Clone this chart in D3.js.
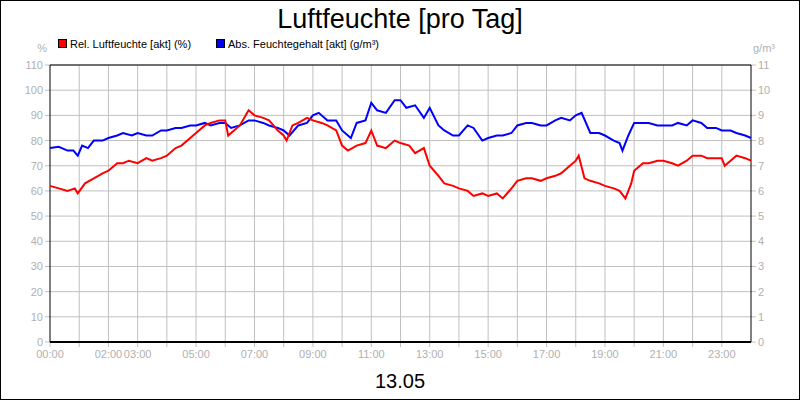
<!DOCTYPE html><html><head><meta charset="utf-8">
<script src="https://cdn.jsdelivr.net/npm/d3@7"></script>
<style>body{margin:0;background:#fff}text{font-family:"Liberation Sans",Arial,sans-serif}</style></head><body>
<svg id="c" width="800" height="400"></svg>
<script>
const relTimes=[0,0.3,0.6,0.85,0.95,1.2,1.5,1.8,2,2.3,2.5,2.7,3,3.3,3.5,3.8,4,4.3,4.5,4.8,5,5.3,5.5,5.8,6,6.1,6.3,6.5,6.8,7,7.3,7.5,7.8,8,8.1,8.3,8.5,8.8,9,9.3,9.5,9.8,10,10.2,10.5,10.8,11,11.2,11.5,11.8,12,12.3,12.5,12.8,13,13.3,13.5,13.8,14,14.3,14.5,14.8,15,15.3,15.5,15.8,16,16.3,16.5,16.8,17,17.3,17.5,17.8,18,18.1,18.3,18.5,18.8,19,19.3,19.5,19.7,19.9,20,20.3,20.5,20.8,21,21.3,21.5,21.8,22,22.3,22.5,22.8,23,23.1,23.3,23.5,23.8,24];
const relVals=[62,61,60,61,59,63,65,67,68,71,71,72,71,73,72,73,74,77,78,81,83,86,87,88,88,82,84,86,92,90,89,88,84,82,80,86,87,89,88,87,86,84,78,76,78,79,84,78,77,80,79,78,75,77,70,66,63,62,61,60,58,59,58,59,57,61,64,65,65,64,65,66,67,70,72,74,65,64,63,62,61,60,57,63,68,71,71,72,72,71,70,72,74,74,73,73,73,70,72,74,73,72];
const absTimes=[0,0.3,0.6,0.8,0.95,1.1,1.3,1.5,1.8,2,2.3,2.5,2.8,3,3.3,3.5,3.8,4,4.3,4.5,4.8,5,5.3,5.5,5.8,6,6.2,6.5,6.8,7,7.3,7.5,7.8,8,8.2,8.5,8.8,9,9.2,9.5,9.8,10,10.3,10.5,10.8,11,11.2,11.5,11.8,12,12.2,12.5,12.8,13,13.3,13.5,13.8,14,14.3,14.5,14.8,15,15.3,15.5,15.8,16,16.3,16.5,16.8,17,17.3,17.5,17.8,18,18.2,18.5,18.8,19,19.3,19.5,19.6,19.8,20,20.3,20.5,20.8,21,21.3,21.5,21.8,22,22.3,22.5,22.8,23,23.3,23.5,23.8,24];
const absVals=[77,77.5,76,76,74,78,77,80,80,81,82,83,82,83,82,82,84,84,85,85,86,86,87,86,87,87,85,86,88,88,87,86,85,84,82,86,87,90,91,88,88,84,81,87,88,95,92,91,96,96,93,94,89,93,86,84,82,82,86,85,80,81,82,82,83,86,87,87,86,86,88,89,88,90,91,83,83,82,80,79,76,82,87,87,87,86,86,86,87,86,88,87,85,85,84,84,83,82,81,81];
const yTicks=[0,10,20,30,40,50,60,70,80,90,100,110];
const xLabels=["00:00","02:00","03:00","05:00","07:00","09:00","11:00","13:00","15:00","17:00","19:00","21:00","23:00"];
const legendNames=["Rel. Luftfeuchte [akt] (%)","Abs. Feuchtegehalt [akt] (g/m³)"];
const colors=["#ff0000","#0000ff"];

const svg=d3.select("#c");
svg.append("rect").attr("x",0.5).attr("y",0.5).attr("width",799).attr("height",399).attr("fill","#fff").attr("stroke","#000");
const L=50,R=751,T=65,B=342;
const x=d3.scaleLinear().domain([0,24]).range([L,R]);
const y=d3.scaleLinear().domain([0,110]).range([B,T]);
const grid="#c0c0c0",lab="#b0b0b0";
const g=svg.append("g");
d3.range(1,24).forEach(h=>g.append("line").attr("x1",x(h)).attr("x2",x(h)).attr("y1",T).attr("y2",B+5).attr("stroke",grid));
yTicks.forEach(v=>{g.append("line").attr("x1",L-5).attr("x2",R+5).attr("y1",y(v)).attr("y2",y(v)).attr("stroke",grid);
 g.append("text").attr("x",L-7).attr("y",y(v)+4).attr("text-anchor","end").attr("font-size",11).attr("fill",lab).text(v);
 g.append("text").attr("x",R+7).attr("y",y(v)+4).attr("font-size",11).attr("fill",lab).text(v/10);});
g.append("line").attr("x1",L).attr("x2",L).attr("y1",B+5).attr("y2",B+5).attr("stroke",grid);
xLabels.forEach(s=>{const h=+s.slice(0,2);g.append("text").attr("x",x(h)).attr("y",B+16).attr("text-anchor","middle").attr("font-size",11).attr("fill",lab).text(s);});
g.append("line").attr("x1",L).attr("x2",L).attr("y1",B+5).attr("y2",B).attr("stroke",grid);
g.append("path").attr("d",`M${L},${T}H${R}V${B}`).attr("fill","none").attr("stroke","#000");
g.append("line").attr("x1",L).attr("x2",L).attr("y1",T).attr("y2",B).attr("stroke","#000");
g.append("line").attr("x1",L).attr("x2",R).attr("y1",B).attr("y2",B).attr("stroke","#000").attr("stroke-width",2);
const line=d3.line().x(d=>x(d[0])).y(d=>y(d[1]));
[[absTimes,absVals,colors[1]],[relTimes,relVals,colors[0]]].forEach(([t,v,c])=>{
 g.append("path").attr("d",line(t.map((tt,i)=>[tt,v[i]]))).attr("fill","none").attr("stroke",c).attr("stroke-width",2);});
svg.append("text").attr("x",400).attr("y",28).attr("text-anchor","middle").attr("font-size",27).text("Luftfeuchte [pro Tag]");
svg.append("text").attr("x",400).attr("y",388).attr("text-anchor","middle").attr("font-size",20).text("13.05");
svg.append("text").attr("x",47).attr("y",52).attr("text-anchor","end").attr("font-size",11).attr("fill",lab).text("%");
svg.append("text").attr("x",753).attr("y",52).attr("font-size",11).attr("fill",lab).text("g/m³");
[[58,legendNames[0],colors[0]],[216,legendNames[1],colors[1]]].forEach(([lx,s,c])=>{
 svg.append("rect").attr("x",lx+0.5).attr("y",39.5).attr("width",8).attr("height",8).attr("fill",c).attr("stroke","#000");
 svg.append("text").attr("x",lx+12).attr("y",48).attr("font-size",11).text(s);});
</script></body></html>
